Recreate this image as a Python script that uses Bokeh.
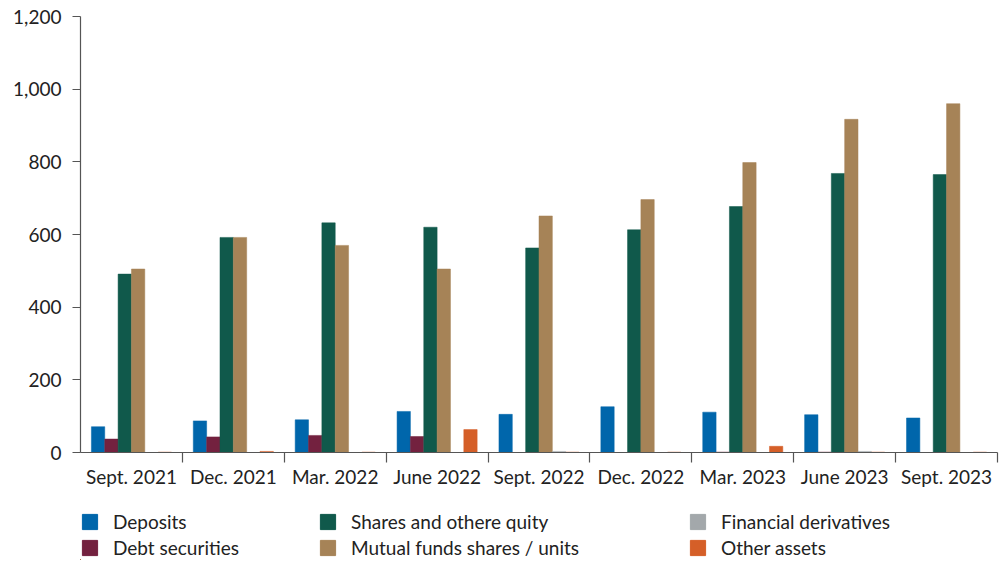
from bokeh.plotting import figure
from bokeh.layouts import column
from bokeh.models import Range1d, FixedTicker, NumeralTickFormatter, Legend, LegendItem, ColumnDataSource
from bokeh.transform import dodge
from bokeh.embed import file_html
from bokeh.resources import INLINE

categories = ["Sept. 2021", "Dec. 2021", "Mar. 2022", "June 2022", "Sept. 2022",
              "Dec. 2022", "Mar. 2023", "June 2023", "Sept. 2023"]
deposits = [71, 87, 90, 113, 105, 126, 111, 104, 95]
debt_securities = [37, 43, 47, 44, 0, 0, 1, 1, 0]
shares_equity = [491, 592, 632, 620, 563, 613, 677, 768, 765]
mutual_funds = [505, 592, 570, 505, 651, 696, 798, 917, 960]
financial_derivatives = [0, 0, 0, 0, 3, 0, 0, 3, 0]
other_assets = [1, 3, 1, 63, 1, 1, 17, 1, 1]

series_names = ["Deposits", "Debt securities", "Shares and othere quity",
                "Mutual funds shares / units", "Financial derivatives", "Other assets"]
series_keys = ["deposits", "debt", "shares", "mutual", "deriv", "other"]
series_colors = ["#0066ab", "#73213f", "#10594b", "#a68357", "#a3a8ab", "#d55f28"]

pos = [i + 0.5 for i in range(len(categories))]
source = ColumnDataSource(dict(x=pos, cat=categories, deposits=deposits, debt=debt_securities,
                               shares=shares_equity, mutual=mutual_funds,
                               deriv=financial_derivatives, other=other_assets))

FONT = "Lato"
FS = "19px"
TXT = "#222222"
AX = "#555555"

p = figure(width=1000, height=495, x_range=Range1d(0, 9), y_range=Range1d(0, 1200),
           output_backend="svg", toolbar_location=None,
           min_border_left=80, min_border_right=3, min_border_top=16, min_border_bottom=43)
p.outline_line_color = None
p.grid.grid_line_color = None

bw = 0.131
renderers = []
for k, (key, col) in enumerate(zip(series_keys, series_colors)):
    off = (k - 2.5) * bw
    r = p.vbar(x=dodge("x", off), top=key, width=bw, bottom=0, source=source,
               fill_color=col, line_color=col, line_width=0.5)
    renderers.append(r)

# x axis
xa = p.xaxis[0]
xa.ticker = FixedTicker(ticks=pos, minor_ticks=[1, 2, 3, 4, 5, 6, 7, 8, 9])
xa.major_label_overrides = {v: c for v, c in zip(pos, categories)}
xa.major_tick_out = 0
xa.major_tick_in = 0
xa.minor_tick_out = 10
xa.minor_tick_in = 0
xa.minor_tick_line_color = AX
xa.minor_tick_line_width = 1.2
xa.axis_line_color = AX
xa.axis_line_width = 1.2
xa.major_label_standoff = 2
xa.major_label_text_font = FONT
xa.major_label_text_font_size = FS
xa.major_label_text_color = TXT

# y axis
ya = p.yaxis[0]
ya.ticker = FixedTicker(ticks=[0, 200, 400, 600, 800, 1000, 1200])
ya.formatter = NumeralTickFormatter(format="0,0")
ya.major_tick_out = 8
ya.major_tick_in = 0
ya.minor_tick_line_color = None
ya.axis_line_color = AX
ya.axis_line_width = 1.2
ya.major_tick_line_color = AX
ya.major_label_standoff = 11
ya.major_label_text_font = FONT
ya.major_label_text_font_size = FS
ya.major_label_text_color = TXT

# legend figure (frame aligned with the chart frame by the column layout)
lf = figure(width=1000, height=65, x_range=Range1d(0, 1000), y_range=Range1d(0, 65),
            output_backend="svg", toolbar_location=None, x_axis_type=None, y_axis_type=None,
            min_border_left=0, min_border_right=0, min_border_top=0, min_border_bottom=0)
lf.outline_line_color = None
lf.grid.visible = False
dummies = [lf.vbar(x=[-100], top=[1], width=1, fill_color=c, line_color=c) for c in series_colors]

def make_legend(idxs, x):
    items = [LegendItem(label=series_names[i], renderers=[dummies[i]]) for i in idxs]
    lg = Legend(items=items, location=(x, 1.5), orientation="vertical",
                glyph_width=19, glyph_height=19, label_standoff=14, padding=0, margin=0,
                spacing=3, label_height=20, border_line_color=None, background_fill_alpha=0,
                label_text_font=FONT, label_text_font_size=FS, label_text_color=TXT)
    lf.add_layout(lg, "center")

make_legend([0, 1], 0)
make_legend([2, 3], 238)
make_legend([4, 5], 608)

layout = column(p, lf, spacing=0)
open("out.html", "w").write(file_html(layout, INLINE))
